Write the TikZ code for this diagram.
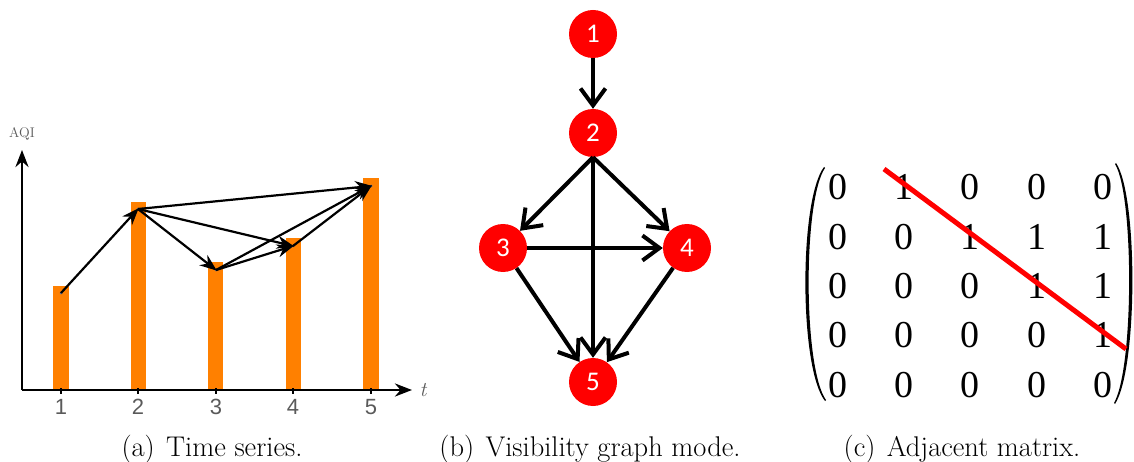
\documentclass[tikz,border=0pt]{standalone}
\usepackage{fontspec}
\newfontfamily\sansfont{Liberation Sans}
\newfontfamily\nodefont{Carlito}
\newfontfamily\matfont{Liberation Serif}
\usetikzlibrary{arrows.meta}
\definecolor{barorange}{RGB}{255,128,0}
\definecolor{ticktext}{RGB}{90,90,90}
\definecolor{nodered}{RGB}{255,0,0}
\definecolor{dotblue}{RGB}{90,110,150}
\tikzset{
  bar/.style={fill=barorange, draw=none},
  axis/.style={line width=2.8pt, -{Stealth[length=17pt,width=13pt]}},
  vis/.style={line width=2.2pt, -{Stealth[length=17pt,width=13pt]}, shorten >=-1pt},
  pt/.style={circle, fill=dotblue, inner sep=0pt, minimum size=3pt},
  ticklab/.style={font=\sansfont\fontsize{22}{24}\selectfont, text=ticktext},
  vg/.style={circle, fill=nodered, minimum size=48pt, inner sep=0pt, text=white, font=\nodefont\fontsize{27}{29}\selectfont},
  vgedge/.style={line width=4pt, -{Straight Barb[length=17pt,width=25pt,line width=4pt]}},
  ent/.style={font=\matfont\fontsize{38}{40}\selectfont, inner sep=0pt},
  captext/.style={font=\fontsize{28.5}{32}\selectfont, anchor=base},
}
\begin{document}
\begin{tikzpicture}[x=1pt,y=-1pt]
\useasboundingbox (0,0) rectangle (1134,462);
% ---------- (a) time series ----------
\fill[bar] (53,286) rectangle (69,390);
\fill[bar] (131,202) rectangle (146,390);
\fill[bar] (208,262) rectangle (223,390);
\fill[bar] (286,238) rectangle (301,390);
\fill[bar] (363,178) rectangle (379,390);
\coordinate (o) at (22,390);
\coordinate (ytop) at (22,150);
\coordinate (xend) at (412,390);
\draw[axis] (o) -- (ytop);
\draw[axis] (o) -- (xend);
\foreach \x in {61,138,216,293,371}{
  \draw[line width=2pt] (\x,388) -- (\x,394);
}
\node[ticklab] (t1) at (61,407) {1};
\node[ticklab] (t2) at (138,407) {2};
\node[ticklab] (t3) at (216,407) {3};
\node[ticklab] (t4) at (293,407) {4};
\node[ticklab] (t5) at (371,407) {5};
\node[text=ticktext, font=\fontsize{14}{15}\selectfont] (aqi) at (22,134) {AQI};
\node[text=ticktext, font=\itshape\fontsize{21}{22}\selectfont] (tlab) at (423,390) {t};
\node[pt] (p1) at (61,293) {};
\node[pt] (p2) at (138,209) {};
\node[pt] (p3) at (216,270) {};
\node[pt] (p4) at (293,246) {};
\node[pt] (p5) at (371,186) {};
\draw[vis] (p1.center) -- (p2.center);
\draw[vis] (p2.center) -- (p3.center);
\draw[vis] (p2.center) -- (p4.center);
\draw[vis] (p2.center) -- (p5.center);
\draw[vis] (p3.center) -- (p4.center);
\draw[vis] (p3.center) -- (p5.center);
\draw[vis] (p4.center) -- (p5.center);
% ---------- (b) visibility graph ----------
\node[vg] (n1) at (593,34) {1};
\node[vg] (n2) at (593,133) {2};
\node[vg] (n3) at (503,248) {3};
\node[vg] (n4) at (687,248) {4};
\node[vg] (n5) at (593,382) {5};
\draw[vgedge] (n1) -- (n2);
\draw[vgedge] (n2.south) -- (n3);
\draw[vgedge] (n2.south) -- (n4);
\draw[vgedge] (n2.south) -- (n5);
\draw[vgedge] (n3) -- (n4);
\draw[vgedge] (n3) -- (n5);
\draw[vgedge] (n4) -- (n5);
% ---------- (c) adjacency matrix ----------
\foreach \r/\y/\row in {1/187/{0,1,0,0,0}, 2/237/{0,0,1,1,1}, 3/286/{0,0,0,1,1}, 4/335/{0,0,0,0,1}, 5/385/{0,0,0,0,0}}{
  \foreach \v [count=\c] in \row {
    \pgfmathsetmacro{\xx}{838+66.2*(\c-1)}
    \node[ent] (m\r\c) at (\xx,\y) {\v};
  }
}
\fill (824,167) .. controls (799,200) and (799,368) .. (825,401)
      -- (826,400) .. controls (803,368) and (803,200) .. (825,168) -- cycle;
\fill (1116,163) .. controls (1138,195) and (1138,368) .. (1115,404)
      -- (1114,403) .. controls (1134,368) and (1134,195) .. (1115,164) -- cycle;
\coordinate (rs) at (884,169);
\coordinate (re) at (1126,349);
\draw[nodered, line width=5pt] (rs) -- (re);
% ---------- captions ----------
\node[captext] (ca) at (212,456) {(a)\hspace{0.4em}Time series.};
\node[captext] (cb) at (590,456) {(b)\hspace{0.4em}Visibility graph mode.};
\node[captext] (cc) at (962,456) {(c)\hspace{0.4em}Adjacent matrix.};
\end{tikzpicture}
\end{document}
